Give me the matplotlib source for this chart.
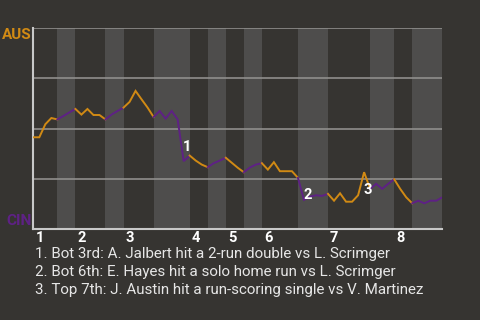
import matplotlib
matplotlib.use("Agg")
from matplotlib import pyplot as plt

plt.rcParams['font.family'] = ['Roboto', 'DejaVu Sans']

# AUS win probability (%) after each plate appearance
win_prob = [45.7, 45.7, 52.2, 55.3, 54.6, 56.3, 58.1, 59.8, 57.0, 59.8,
            56.8, 56.8, 54.6, 57.0, 58.8, 60.5, 63.3, 68.8, 64.6, 60.5,
            55.8, 58.8, 55.0, 58.8, 54.6, 33.8, 36.6, 34.1, 32.1, 30.8,
            32.8, 34.1, 35.5, 33.0, 30.5, 28.3, 30.6, 32.1, 32.8, 29.6,
            33.3, 28.8, 28.8, 28.8, 25.5, 14.5, 16.1, 16.8, 16.5, 17.5,
            14.1, 17.8, 13.6, 13.6, 16.8, 28.3, 20.0, 22.5, 20.0, 22.5,
            24.8, 20.0, 15.8, 12.8, 14.1, 12.8, 14.1, 14.1, 15.8]

# plate appearance index where each half inning ends
half_ends = [4, 7, 12, 15, 20, 26, 29, 32, 35, 38, 44, 49, 56, 60, 63, 68]
innings = ['1', '2', '3', '4', '5', '6', '7', '8']

away_team = 'AUS'
home_team = 'CIN'

event_idx = [25, 45, 55]
event_text = ['1. Bot 3rd: A. Jalbert hit a 2-run double vs L. Scrimger',
              '2. Bot 6th: E. Hayes hit a solo home run vs L. Scrimger',
              '3. Top 7th: J. Austin hit a run-scoring single vs V. Martinez']

bg = '#363431'
band = '#4e4d4c'
orange = '#d18a14'
purple = '#5e2185'
grid = '#8f8e8c'

fig = plt.figure(figsize=(4.8, 3.2), dpi=100, facecolor=bg)
ax = fig.add_axes([33.3 / 480, 1 - 229 / 320, 409 / 480, 200.7 / 320])
ax.set_facecolor(bg)

starts = [0] + half_ends[:-1]
for h, (s, e) in enumerate(zip(starts, half_ends)):
    if h % 2 == 1:
        ax.axvspan(s, e, color=band, lw=0, zorder=0)

for y in [25, 50, 75, 100]:
    ax.axhline(y, color=grid, lw=1.2, zorder=1)

for h, (s, e) in enumerate(zip(starts, half_ends)):
    col = orange if h % 2 == 0 else purple
    ax.plot(range(s, e + 1), win_prob[s:e + 1], color=col, lw=1.4,
            solid_joinstyle='miter', zorder=3)

for n, i in enumerate(event_idx):
    xm = i - 0.5
    ym = (win_prob[i - 1] + win_prob[i]) / 2
    ax.annotate(str(n + 1), (xm, ym), xytext=(1.5, 0.5), textcoords='offset points',
                ha='left', va='top', color='white', fontsize=10.5, fontweight='bold',
                zorder=4)

ax.set_xlim(0, half_ends[-1])
ax.set_ylim(0, 100)
ax.set_xticks([])
ax.set_yticks([])
for side in ['top', 'right']:
    ax.spines[side].set_visible(False)
for side in ['left', 'bottom']:
    ax.spines[side].set_color('#c8c8c8')
    ax.spines[side].set_linewidth(1.5)

ax.text(-0.004, 0.945, away_team, transform=ax.transAxes, ha='right', va='baseline',
        color=orange, fontsize=11, fontweight='bold')
ax.text(-0.004, 0.02, home_team, transform=ax.transAxes, ha='right', va='baseline',
        color=purple, fontsize=11, fontweight='bold')

inning_starts = [0] + half_ends[1::2][:-1]
for lab, s in zip(innings, inning_starts):
    ax.annotate(lab, (s, 0), xytext=(1.5, -9.1), textcoords='offset points',
                ha='left', va='baseline', color='white', fontsize=10.5,
                fontweight='bold', annotation_clip=False)

for k, t in enumerate(event_text):
    fig.text(35 / 480, 1 - (258.3 + 18 * k) / 320, t, ha='left', va='baseline',
             color='#e6e6e6', fontsize=10.9)

fig.savefig('out.png', dpi=100, facecolor=bg)
